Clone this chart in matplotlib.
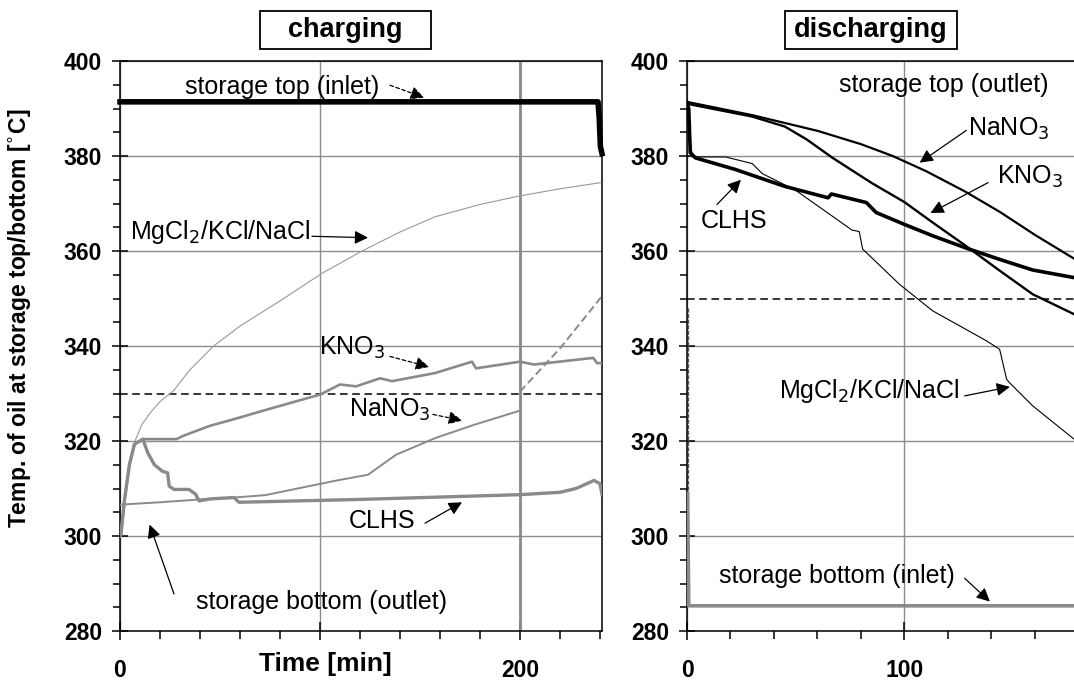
import numpy as np
import matplotlib
matplotlib.use('Agg')
import matplotlib.pyplot as plt
from matplotlib.patches import Rectangle

plt.rcParams['font.family'] = ['Liberation Sans', 'DejaVu Sans']

# ---- charging (left panel), time [min] / temperature [C]
ch_top_t = [0, 239, 239.6, 240.2, 241]
ch_top_T = [391.4, 391.4, 388, 382, 380.5]

ch_mg_t = [0, 2.2, 4.7, 7.5, 11, 15.8, 20, 26.6, 35, 46.8, 60, 80.4, 101, 121, 140, 157.5, 180, 200, 220, 240.5]
ch_mg_T = [300, 307.4, 315, 320, 323.5, 326.3, 328.3, 330.5, 335, 340, 344.2, 349.6, 355.3, 360, 364, 367.2, 369.8, 371.6, 373.1, 374.4]

ch_kno3_t = [0, 0.5, 2.2, 4.7, 7.2, 11.4, 15, 28.3, 31.7, 45, 58.7, 75, 100.2, 110, 118, 130, 136,
             157.5, 176, 178, 200, 207, 236.6, 238.5, 241]
ch_kno3_T = [300, 300.4, 307.4, 315, 319.3, 320.4, 320.4, 320.4, 321.1, 323.2, 324.8, 326.8, 329.8, 331.9, 331.5, 333.2, 332.6,
             334.3, 336.7, 335.3, 336.7, 336.1, 337.5, 336.4, 336.4]

ch_clhs_t = [0, 0.5, 2.2, 4.7, 7.2, 11.4, 13.9, 17.2, 21.3, 23.8, 24.6, 27, 34.5, 37.8, 39.5, 45, 57, 59.5,
             80, 120, 160, 200, 220, 228, 237, 240, 241]
ch_clhs_T = [300, 300.4, 307.4, 315, 319.3, 320.4, 317.5, 315, 313.6, 313.3, 310.5, 309.8, 309.8, 308.8, 307.4, 307.8, 308.1, 307.1,
             307.3, 307.7, 308.2, 308.7, 309.2, 310, 311.7, 311, 308.7]

ch_nano3_t = [0, 20, 40, 57, 72.6, 108.5, 124, 138, 157.5, 177, 200]
ch_nano3_T = [306.6, 307.1, 307.7, 308.1, 308.6, 311.7, 312.9, 317.1, 320.6, 323.4, 326.4]
ch_nano3_ext_t = [200, 220, 241]
ch_nano3_ext_T = [330.4, 339.5, 350.5]

ch_limit = 330
ch_switch = 200

# ---- discharging (right panel)
ds_nano3_t = [0, 30, 60, 80, 94.6, 110, 128, 144, 160, 178]
ds_nano3_T = [391.4, 388.6, 385.3, 382.5, 380, 376.8, 372.5, 368.2, 363.4, 358.4]

ds_kno3_t = [0, 30, 45, 55, 67, 85, 100, 113, 128.5, 144, 159, 178]
ds_kno3_T = [391, 388.3, 386.2, 383.5, 379.6, 374.3, 370.3, 366, 361, 355.8, 350.9, 346.7]

ds_clhs_t = [0, 0.8, 1.5, 3.9, 22, 45, 64.9, 66.4, 82.5, 87, 100, 113, 128.5, 144, 159, 178]
ds_clhs_T = [391.2, 390, 380.7, 379.6, 377.2, 373.6, 371.2, 372, 370.2, 368.1, 365.6, 363.2, 360.6, 358.2, 356, 354.4]

ds_mg_t = [0, 1, 2.5, 17.8, 30, 34.6, 49.9, 62, 75.9, 79.2, 80.8, 97.7, 113, 137.7, 143.8, 147, 148.5, 159, 178]
ds_mg_T = [391, 385, 379.8, 379.8, 378.4, 376.3, 372.8, 368.9, 364.4, 364.1, 360.4, 353, 347.4, 341.1, 339.3, 333, 332.2, 327.4, 320.4]

ds_bot_t = [0.3, 0.3, 0.8, 178]
ds_bot_T = [348, 309, 285.3, 285.3]

ds_limit = 350

GRAY = '#8a8a8a'
W, H = 1074, 682

fig = plt.figure(figsize=(W / 100, H / 100), dpi=100)
ax1 = fig.add_axes([120 / W, (H - 631) / H, 482 / W, 570 / H])
ax2 = fig.add_axes([687 / W, (H - 631) / H, 387 / W, 570 / H])


def style(ax, xmax, xmajor):
    ax.set_xlim(0, xmax)
    ax.set_ylim(280, 400)
    ax.set_xticks(xmajor)
    ax.set_xticks(np.arange(0, xmax + 1, 20), minor=True)
    ax.set_yticks(np.arange(280, 401, 20))
    ax.set_yticks(np.arange(280, 401, 5), minor=True)
    ax.grid(True, which='major', color='#8c8c8c', lw=1.0)
    ax.tick_params(axis='x', which='major', direction='inout', length=13, width=1.1, pad=13.5,
                   labelsize=16.5)
    ax.tick_params(axis='x', which='minor', direction='out', length=5.5, width=1.1)
    ax.tick_params(axis='y', which='major', direction='inout', length=12, width=1.1, pad=7,
                   labelsize=16.5)
    ax.tick_params(axis='y', which='minor', direction='out', length=5, width=1.1)
    for lab in ax.get_xticklabels() + ax.get_yticklabels():
        lab.set_fontweight('bold')
    for s in ax.spines.values():
        s.set_linewidth(1.1)


def arrow(ax, tail, head, ls='-'):
    ax.annotate('', xy=head, xytext=tail,
                arrowprops=dict(arrowstyle='-|>', color='black', lw=0.9, ls=ls,
                                mutation_scale=20, shrinkA=0, shrinkB=0))


tk = dict(fontsize=18, ha='center', va='center')

# ---------------- charging
style(ax1, 241, [0, 100, 200])
ax1.set_xticklabels(['0', '', '200'])
ax1.axvline(ch_switch, color=GRAY, lw=2.0, zorder=2)
ax1.axhline(ch_limit, color='black', lw=1.1, ls=(0, (5, 3)), zorder=3)
ax1.plot(ch_mg_t, ch_mg_T, color='#999999', lw=0.8, zorder=4)
ax1.plot(ch_nano3_t, ch_nano3_T, color=GRAY, lw=1.4, zorder=4)
ax1.plot(ch_nano3_ext_t, ch_nano3_ext_T, color=GRAY, lw=1.4, ls=(0, (4, 2)), zorder=4)
ax1.plot(ch_kno3_t, ch_kno3_T, color=GRAY, lw=1.9, zorder=5)
ax1.plot(ch_clhs_t, ch_clhs_T, color=GRAY, lw=2.4, zorder=5)
ax1.plot(ch_top_t, ch_top_T, color='black', lw=4.0, zorder=6, clip_on=False)

ax1.text(81, 394.6, 'storage top (inlet)', **tk)
arrow(ax1, (135, 394.9), (152, 392.3), ls=(0, (3, 2)))
ax1.text(50, 364, 'MgCl$_2$/KCl/NaCl', **tk)
arrow(ax1, (96, 363.1), (124, 362.8))
ax1.text(116, 339.6, 'KNO$_3$', **tk)
arrow(ax1, (135, 337.8), (154.5, 335.6), ls=(0, (3, 2)))
ax1.text(135, 326.6, 'NaNO$_3$', **tk)
arrow(ax1, (156.5, 325.6), (171, 324.3), ls=(0, (3, 2)))
ax1.text(131, 303.1, 'CLHS', **tk)
arrow(ax1, (152.5, 302.7), (171, 307.1))
ax1.text(101, 286, 'storage bottom (outlet)', **tk)
arrow(ax1, (27, 287.8), (14.8, 302.4))

ax1.set_ylabel('Temp. of oil at storage top/bottom [$^{\\circ}$C]', fontsize=16.5, fontweight='bold')
ax1.yaxis.set_label_coords(-0.18, 0.549)
ax1.set_xlabel('Time [min]', fontsize=19, fontweight='bold')
ax1.xaxis.set_label_coords(0.427, -0.036)

# ---------------- discharging
style(ax2, 178, [0, 100])
ax2.spines['right'].set_visible(False)
ax2.axhline(ds_limit, color='black', lw=1.1, ls=(0, (5, 3)), zorder=3)
ax2.plot(ds_bot_t[:2], ds_bot_T[:2], color='#555555', lw=1.0, ls=(0, (3, 1)), zorder=4)
ax2.plot(ds_bot_t[1:], ds_bot_T[1:], color=GRAY, lw=2.6, zorder=4)
ax2.plot(ds_mg_t, ds_mg_T, color='black', lw=0.8, zorder=5)
ax2.plot(ds_nano3_t, ds_nano3_T, color='black', lw=1.6, zorder=5)
ax2.plot(ds_kno3_t, ds_kno3_T, color='black', lw=1.7, zorder=5)
ax2.plot(ds_clhs_t, ds_clhs_T, color='black', lw=2.6, zorder=6)

ax2.text(118, 395, 'storage top (outlet)', **tk)
ax2.text(148, 385.8, 'NaNO$_3$', **tk)
arrow(ax2, (128.5, 385.4), (107, 378.6))
ax2.text(158, 375.6, 'KNO$_3$', **tk)
arrow(ax2, (138.5, 374.4), (112, 368))
ax2.text(21.5, 366.3, 'CLHS', **tk)
arrow(ax2, (13.8, 369.8), (24.8, 375))
ax2.text(84, 330.6, 'MgCl$_2$/KCl/NaCl', **tk)
arrow(ax2, (127.7, 329.5), (148.5, 331.4))
ax2.text(69, 291.5, 'storage bottom (inlet)', **tk)
arrow(ax2, (127.7, 291.1), (139.3, 286.2))

# panel titles in boxes
for x0, x1, label in [(260, 431, 'charging'), (785, 957, 'discharging')]:
    fig.patches.append(Rectangle((x0 / W, (H - 49) / H), (x1 - x0) / W, 38 / H,
                                 transform=fig.transFigure, fc='white', ec='black', lw=1.3))
    fig.text((x0 + x1) / 2 / W, (H - 30) / H, label, fontsize=19.5, fontweight='bold',
             ha='center', va='center')

fig.savefig('out.png', dpi=100)
